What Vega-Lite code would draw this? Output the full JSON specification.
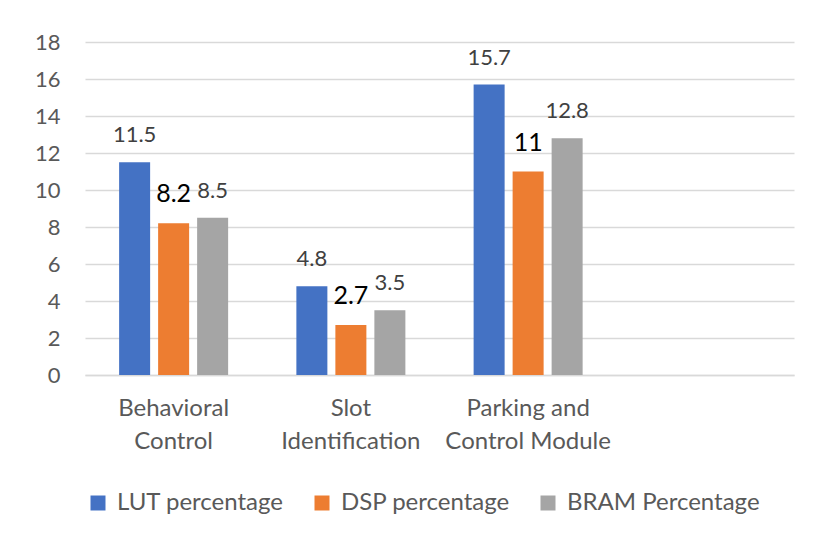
{
  "$schema": "https://vega.github.io/schema/vega-lite/v6.json",
  "width": 709,
  "height": 333,
  "autosize": {"type": "none"},
  "padding": {"left": 85, "top": 42, "right": 20, "bottom": 163},
  "background": "white",
  "config": {
    "view": {"stroke": null},
    "font": "Lato",
    "axis": {"labelFont": "Lato", "labelColor": "#595959", "labelFontSize": 22}
  },
  "data": {
    "values": [
      {"module": "Behavioral Control", "series": "LUT percentage", "value": 11.5},
      {"module": "Behavioral Control", "series": "DSP percentage", "value": 8.2},
      {"module": "Behavioral Control", "series": "BRAM Percentage", "value": 8.5},
      {"module": "Slot Identification", "series": "LUT percentage", "value": 4.8},
      {"module": "Slot Identification", "series": "DSP percentage", "value": 2.7},
      {"module": "Slot Identification", "series": "BRAM Percentage", "value": 3.5},
      {"module": "Parking and Control Module", "series": "LUT percentage", "value": 15.7},
      {"module": "Parking and Control Module", "series": "DSP percentage", "value": 11},
      {"module": "Parking and Control Module", "series": "BRAM Percentage", "value": 12.8}
    ]
  },
  "encoding": {
    "x": {
      "field": "module",
      "type": "nominal",
      "sort": null,
      "scale": {
        "domain": ["Behavioral Control", "Slot Identification", "Parking and Control Module", " "],
        "paddingInner": 0.385,
        "paddingOuter": 0.1925
      },
      "axis": {
        "title": null,
        "labelAngle": 0,
        "ticks": false,
        "domain": true,
        "domainColor": "#d9d9d9",
        "domainWidth": 1.5,
        "labelPadding": 21,
        "labelFontSize": 24,
        "labelLineHeight": 33,
        "labelBaseline": "top",
        "labelLimit": 300,
        "labelExpr": "datum.value == 'Behavioral Control' ? ['Behavioral', 'Control'] : datum.value == 'Slot Identification' ? ['Slot', 'Identification'] : datum.value == 'Parking and Control Module' ? ['Parking and', 'Control Module'] : ''"
      }
    },
    "xOffset": {
      "field": "series",
      "type": "nominal",
      "sort": ["LUT percentage", "DSP percentage", "BRAM Percentage"],
      "scale": {"paddingInner": 0.205, "paddingOuter": 0}
    },
    "y": {
      "field": "value",
      "type": "quantitative",
      "scale": {"domain": [0, 18], "nice": false},
      "axis": {
        "title": null,
        "values": [0, 2, 4, 6, 8, 10, 12, 14, 16, 18],
        "ticks": false,
        "domain": false,
        "gridColor": "#d9d9d9",
        "gridWidth": 1.5,
        "labelPadding": 25
      }
    }
  },
  "layer": [
    {
      "mark": {"type": "bar"},
      "encoding": {
        "color": {
          "field": "series",
          "type": "nominal",
          "sort": ["LUT percentage", "DSP percentage", "BRAM Percentage"],
          "scale": {
            "domain": ["LUT percentage", "DSP percentage", "BRAM Percentage"],
            "range": ["#4472C4", "#ED7D31", "#A5A5A5"]
          },
          "legend": {
            "title": null,
            "orient": "none",
            "direction": "horizontal",
            "legendX": 1,
            "legendY": 449,
            "symbolType": "square",
            "symbolSize": 225,
            "symbolStrokeWidth": 0,
            "labelFont": "Lato",
            "labelFontSize": 24,
            "labelColor": "#595959",
            "labelOffset": 7,
            "labelLimit": 400,
            "columnPadding": 26
          }
        }
      }
    },
    {
      "transform": [{"filter": "datum.series != 'DSP percentage'"}],
      "mark": {"type": "text", "baseline": "alphabetic", "dy": -20, "fontSize": 22, "color": "#404040", "font": "Lato"},
      "encoding": {"text": {"field": "value", "type": "quantitative"}}
    },
    {
      "transform": [{"filter": "datum.series == 'DSP percentage'"}],
      "mark": {"type": "text", "baseline": "alphabetic", "dy": -21, "fontSize": 25, "color": "#000000", "font": "Lato"},
      "encoding": {"text": {"field": "value", "type": "quantitative"}}
    }
  ]
}
